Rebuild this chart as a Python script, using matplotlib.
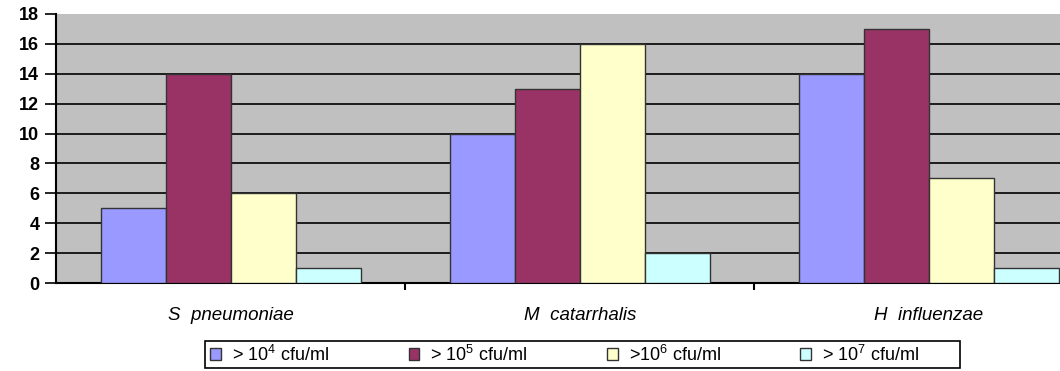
import numpy as np
import matplotlib.pyplot as plt
from matplotlib.patches import Rectangle

plt.rcParams['font.family'] = ['Liberation Sans', 'DejaVu Sans']
plt.rcParams['mathtext.default'] = 'regular'

categories = ['S  pneumoniae', 'M  catarrhalis', 'H  influenzae']
series_labels = ['> 10$^4$ cfu/ml', '> 10$^5$ cfu/ml', '>10$^6$ cfu/ml', '> 10$^7$ cfu/ml']
series_values = [
    [5, 10, 14],
    [14, 13, 17],
    [6, 16, 7],
    [1, 2, 1],
]
colors = ['#9999FF', '#993366', '#FFFFCC', '#CCFFFF']

W, H = 1060, 371
fig = plt.figure(figsize=(W / 100, H / 100), dpi=100)
ax = fig.add_axes([56 / W, 1 - 283 / H, 1 - 56 / W, 269 / H])
ax.set_facecolor('#C0C0C0')

x = np.arange(len(categories))
w = 0.186
for i, (vals, c, lab) in enumerate(zip(series_values, colors, series_labels)):
    ax.bar(x + (i - 1.5) * w, vals, w, color=c, edgecolor='#333333',
           linewidth=1.0, label=lab, zorder=3)

ax.set_ylim(0, 18)
ax.set_yticks(range(0, 19, 2))
ax.yaxis.grid(True, color='black', linewidth=1.2, zorder=0)
ax.get_ygridlines()[-1].set_visible(False)
ax.set_axisbelow(True)
ax.set_xlim(-0.5, 2.375)
ax.set_xticks(x)
ax.set_xticklabels(categories, style='italic', fontsize=13.5)
ax.set_xticks([0.5, 1.5], minor=True)
ax.tick_params(axis='x', which='major', length=0, pad=17)
ax.tick_params(axis='x', which='minor', length=5, width=1.5, color='black')
ax.tick_params(axis='y', length=8, width=1.2, labelsize=13, pad=4)
for t in ax.get_yticklabels():
    t.set_fontweight('bold')

for s in ['top', 'right']:
    ax.spines[s].set_visible(False)
ax.spines['left'].set_linewidth(1.5)
ax.spines['bottom'].set_linewidth(1.5)

# legend entries, spaced like the original, with a separate wide frame
leg = fig.legend(loc='center left', bbox_to_anchor=(205 / W, 1 - 354.5 / H),
                 ncol=4, fontsize=13, frameon=False,
                 handlelength=0.6, handleheight=0.6, handletextpad=0.6,
                 columnspacing=4.4, borderpad=0.3, borderaxespad=0)
fig.patches.append(Rectangle((205 / W, 1 - 368 / H), 755 / W, 27 / H,
                             transform=fig.transFigure, fill=False,
                             edgecolor='black', linewidth=1.2))

fig.savefig('out.png', dpi=100)
